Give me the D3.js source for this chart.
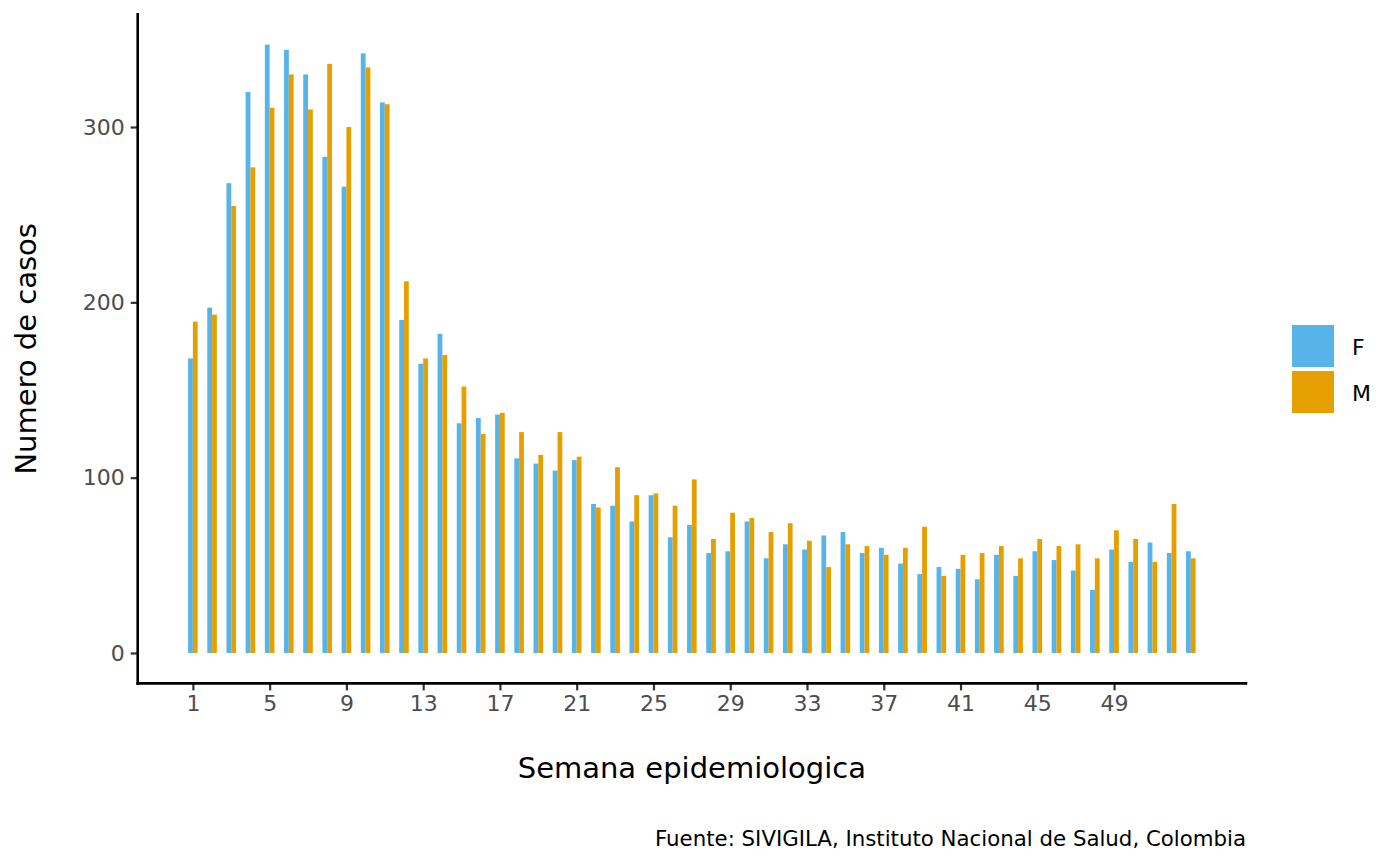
<!DOCTYPE html>
<html>
<head>
<meta charset="utf-8">
<script src="https://cdn.jsdelivr.net/npm/d3@7"></script>
<style>
    body { margin: 0; background: #ffffff; }
    text { font-family: "DejaVu Sans", sans-serif; }
</style>
</head>
<body>
<svg id="chart" width="1400" height="866"></svg>
<script>
// Cases per epidemiological week.
let semanas = d3.range(1, 54);
let casos_f = [168, 197, 268, 320, 347, 344, 330, 283, 266, 342, 314, 190, 165, 182, 131, 134, 136, 111,
    108, 104, 110, 85, 84, 75, 90, 66, 73, 57, 58, 75, 54, 62, 59, 67, 69, 57, 60, 51, 45, 49, 48, 42,
    56, 44, 58, 53, 47, 36, 59, 52, 63, 57, 58];
let casos_m = [189, 193, 255, 277, 311, 330, 310, 336, 300, 334, 313, 212, 168, 170, 152, 125, 137, 126,
    113, 126, 112, 83, 106, 90, 91, 84, 99, 65, 80, 77, 69, 74, 64, 49, 62, 61, 56, 60, 72, 44, 56, 57,
    61, 54, 65, 61, 62, 54, 70, 65, 52, 85, 54];
let sexos = ["F", "M"];
let colores = ["#56B4E9", "#E69F00"];
let x_breaks = d3.range(1, 50, 4);
let y_breaks = [0, 100, 200, 300];

let svg = d3.select("#chart");

let panel = {left: 137.7, right: 1246, top: 14.2, bottom: 683.4};

// ggplot style 5% expansion on both scales
let bar_width = 0.5;
let x_lo = 1 - bar_width / 2, x_hi = 53 + bar_width / 2;
let x_pad = (x_hi - x_lo) * 0.05;
let x = d3.scaleLinear().domain([x_lo - x_pad, x_hi + x_pad]).range([panel.left, panel.right]);

let y_max = d3.max(casos_f.concat(casos_m));
let y_pad = y_max * 0.05;
let y = d3.scaleLinear().domain([-y_pad, y_max + y_pad]).range([panel.bottom, panel.top]);

let color = d3.scaleOrdinal().domain(sexos).range(colores);

let datos = [];
semanas.forEach((s, i) => {
    datos.push({semana: s, sexo: "F", casos: casos_f[i]});
    datos.push({semana: s, sexo: "M", casos: casos_m[i]});
});

let half = bar_width / 2;
svg.append("g")
    .selectAll("rect")
    .data(datos)
    .enter().append("rect")
    .attr("x", d => d.sexo === "F" ? x(d.semana - half) : x(d.semana))
    .attr("width", x(half) - x(0))
    .attr("y", d => y(d.casos))
    .attr("height", d => y(0) - y(d.casos))
    .attr("fill", d => color(d.sexo));

// Axes
let x_axis = d3.axisBottom(x).tickValues(x_breaks).tickSize(7).tickPadding(5).tickFormat(d3.format("d"));
let y_axis = d3.axisLeft(y).tickValues(y_breaks).tickSize(7).tickPadding(6);

let gx = svg.append("g").attr("transform", `translate(0,${panel.bottom})`).call(x_axis);
let gy = svg.append("g").attr("transform", `translate(${panel.left},0)`).call(y_axis);

[gx, gy].forEach(g => {
    g.select(".domain").remove();
    g.selectAll(".tick line").attr("stroke", "#333333").attr("stroke-width", 2.2);
    g.selectAll(".tick text").attr("fill", "#4D4D4D").style("font-size", "22px");
});

svg.append("line")
    .attr("x1", panel.left).attr("x2", panel.right)
    .attr("y1", panel.bottom).attr("y2", panel.bottom)
    .attr("stroke", "black").attr("stroke-width", 2.6).attr("stroke-linecap", "square");
svg.append("line")
    .attr("x1", panel.left).attr("x2", panel.left)
    .attr("y1", panel.top).attr("y2", panel.bottom)
    .attr("stroke", "black").attr("stroke-width", 2.6).attr("stroke-linecap", "square");

// Titles
svg.append("text")
    .attr("x", (panel.left + panel.right) / 2)
    .attr("y", 778)
    .attr("text-anchor", "middle")
    .style("font-size", "29px")
    .text("Semana epidemiologica");

svg.append("text")
    .attr("transform", `translate(36,${(panel.top + panel.bottom) / 2}) rotate(-90)`)
    .attr("text-anchor", "middle")
    .style("font-size", "29px")
    .text("Numero de casos");

svg.append("text")
    .attr("x", panel.right)
    .attr("y", 846)
    .attr("text-anchor", "end")
    .style("font-size", "21.3px")
    .text("Fuente: SIVIGILA, Instituto Nacional de Salud, Colombia");

// Legend
let legend = svg.append("g").attr("transform", "translate(1292,325)");
let key = legend.selectAll("g").data(sexos).enter().append("g")
    .attr("transform", (d, i) => `translate(0,${i * 46})`);
key.append("rect")
    .attr("width", 42).attr("height", 42)
    .attr("fill", d => color(d));
key.append("text")
    .attr("x", 60).attr("y", 30)
    .style("font-size", "22px")
    .text(d => d);
</script>
</body>
</html>
